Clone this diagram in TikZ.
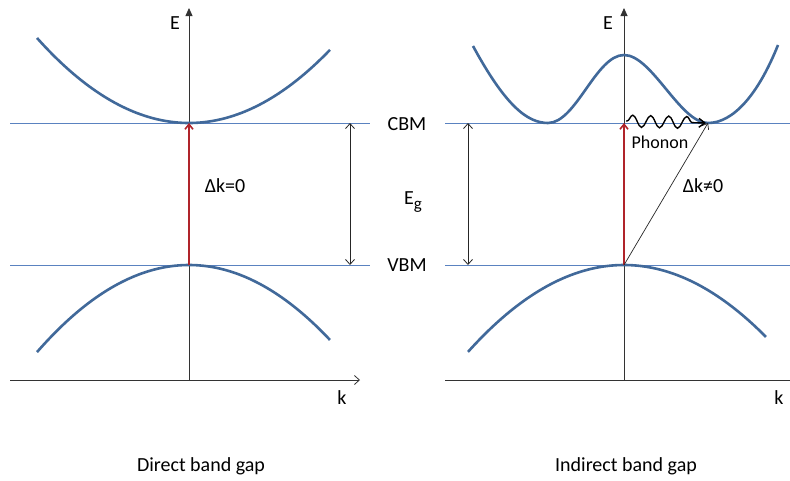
\documentclass[tikz,border=0pt]{standalone}
\usepackage{fontspec}
\setmainfont{Carlito}
\usetikzlibrary{arrows.meta,decorations.pathmorphing}
\begin{document}
\begin{tikzpicture}[x=1pt,y=-1pt,
  band/.style={line width=2.6pt,draw=bandblue},
  level/.style={line width=1pt,draw=levelblue},
  axis/.style={line width=0.8pt,draw=black!80},
  lbl/.style={font=\fontsize{20}{24}\selectfont,inner sep=0pt},
  small/.style={font=\fontsize{18}{21}\selectfont,inner sep=0pt},
  trans/.style={line width=1.6pt,draw=transred,-{Straight Barb[length=5pt,width=8pt]}},
  gap/.style={line width=0.8pt,draw=black!85,{Straight Barb[length=5pt,width=9pt]}-{Straight Barb[length=5pt,width=9pt]}}
]
\definecolor{bandblue}{HTML}{41699A}
\definecolor{levelblue}{HTML}{5A82C0}
\definecolor{transred}{HTML}{B0242A}
\useasboundingbox[fill=white] (0,0) rectangle (790,480);

% coordinates
\coordinate (Lo) at (189,380);
\coordinate (Ltop) at (189,8);
\coordinate (Lk0) at (10,380);
\coordinate (Lk1) at (360,380);
\coordinate (Ro) at (624,380);
\coordinate (Rtop) at (624,8);
\coordinate (Rk0) at (445,380);
\coordinate (Rk1) at (790,380);
\coordinate (Lc) at (189,123);
\coordinate (Lv) at (189,265);
\coordinate (Rc) at (624,123);
\coordinate (Rv) at (624,265);
\coordinate (Rmin) at (708,123);
\coordinate (Rmin2) at (706,123);

% levels
\draw[level] (10,123) -- (370,123);
\draw[level] (445,123) -- (790,123);
\draw[level] (10,265) -- (370,265);
\draw[level] (445,265) -- (790,265);

% axes
\draw[axis,-{Triangle[length=8pt,width=7pt]}] (Lo) -- (Ltop);
\draw[axis,-{Straight Barb[length=5pt,width=9pt]}] (Lk0) -- (Lk1);
\draw[axis,-{Triangle[length=8pt,width=7pt]}] (Ro) -- (Rtop);
\draw[axis] (Rk0) -- (Rk1);

% bands left
\draw[band] plot[domain=-15.2:14.1,samples=80] ({189+10*\x},{123-0.368*\x*\x});
\draw[band] plot[domain=-15.2:14.1,samples=80] ({189+10*\x},{265+0.377*\x*\x});
% bands right
\draw[band] (473,46) .. controls (505,105) and (527,123) .. (548,123)
  .. controls (576,123) and (596,55) .. (624,55)
  .. controls (652,55) and (680,123) .. (708,123)
  .. controls (733,123) and (758,95) .. (778,45);
\draw[band] plot[domain=-15.6:14.2,samples=80] ({624+10*\x},{265+0.357*\x*\x});

% transitions
\draw[trans] (Lv) -- (Lc);
\draw[trans] (Rv) -- (Rc);
\draw[line width=0.7pt,black!85,-{Straight Barb[length=5pt,width=8pt]}] (Rv) -- (Rmin);
\draw[line width=1.4pt,black,-{Straight Barb[length=6pt,width=9pt]},
  decorate,decoration={snake,amplitude=6pt,segment length=18pt,pre length=1pt,post length=13pt}]
  (626,121) -- (Rmin2);

% gap arrows
\draw[gap] (350,123) -- (350,265);
\draw[gap] (468,123) -- (468,265);

% labels
\node[lbl] (E1) at (175,23) {E};
\node[lbl] (E2) at (608,23) {E};
\node[lbl] (k1) at (342,398) {k};
\node[lbl] (k2) at (779,398) {k};
\node[lbl] (cbm) at (407,124) {CBM};
\node[lbl] (vbm) at (407,265) {VBM};
\node[lbl] (eg) at (413,202) {E\raisebox{-0.55ex}{\fontsize{17}{20}\selectfont g}};
\node[lbl] (dk0) at (225,186) {Δk=0};
\node[lbl] (dk1) at (703,186) {Δk≠0};
\node[small] (ph) at (660,142) {Phonon};
\node[lbl] (t1) at (201,466) {Direct band gap};
\node[lbl] (t2) at (626,466) {Indirect band gap};
\end{tikzpicture}
\end{document}
